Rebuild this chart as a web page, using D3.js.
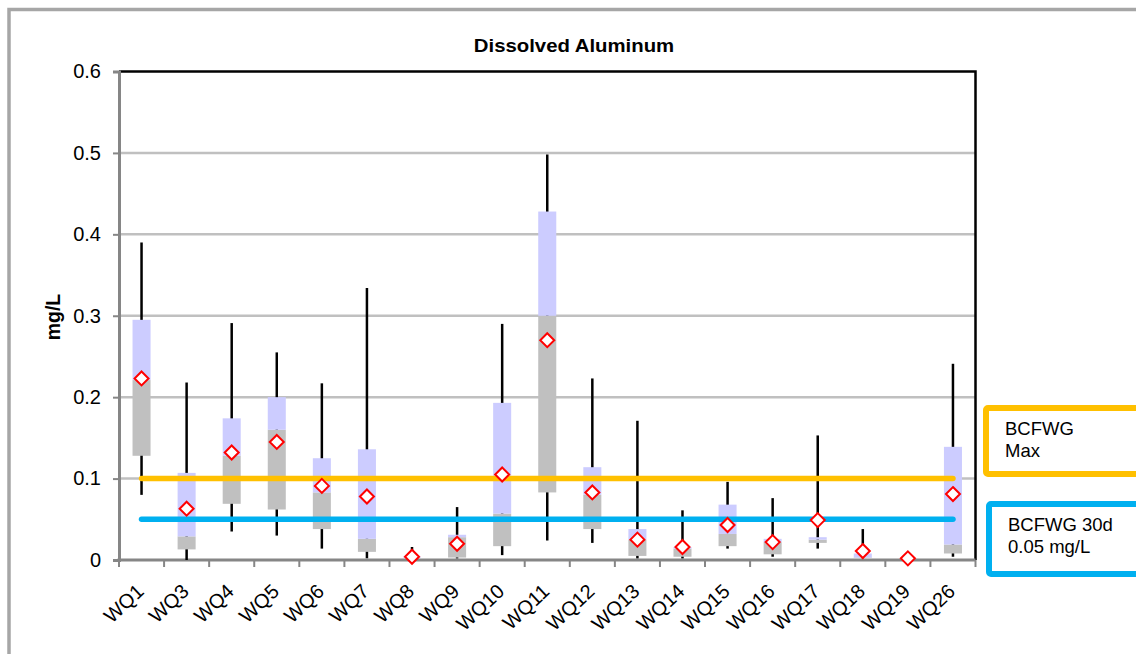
<!DOCTYPE html>
<html>
<head>
<meta charset="utf-8">
<script src="https://cdn.jsdelivr.net/npm/d3@7"></script>
<style>
  html, body { margin: 0; padding: 0; background: #fff; }
  svg { display: block; font-family: "Liberation Sans", Arial, sans-serif; }
</style>
</head>
<body>
<svg id="chart" width="1136" height="654"></svg>
<script>
// Dissolved aluminum by station: whiskers (min/max), box (Q1/median/Q3), diamond = mean
const categories = ["WQ1","WQ3","WQ4","WQ5","WQ6","WQ7","WQ8","WQ9","WQ10","WQ11",
                    "WQ12","WQ13","WQ14","WQ15","WQ16","WQ17","WQ18","WQ19","WQ26"];
const minValues    = [0.080,0.000,0.035,0.030,0.014,0.002,0.002,0.002,0.006,0.024,
                      0.021,0.002,0.002,0.014,0.004,0.014,0.002,0.002,0.004];
const q1Values     = [0.128,0.013,0.069,0.062,0.038,0.010,0.003,0.003,0.017,0.083,
                      0.038,0.005,0.004,0.017,0.007,0.021,0.002,0.002,0.008];
const medianValues = [0.221,0.029,0.128,0.160,0.083,0.026,0.003,0.028,0.057,0.300,
                      0.080,0.025,0.014,0.032,0.022,0.025,0.003,0.002,0.019];
const q3Values     = [0.295,0.107,0.174,0.200,0.125,0.136,0.004,0.031,0.193,0.428,
                      0.114,0.038,0.016,0.068,0.026,0.028,0.008,0.002,0.139];
const maxValues    = [0.390,0.218,0.291,0.255,0.217,0.334,0.016,0.065,0.290,0.498,
                      0.223,0.171,0.061,0.096,0.076,0.153,0.038,0.002,0.241];
const meanValues   = [0.223,0.063,0.132,0.145,0.091,0.078,0.004,0.020,0.105,0.270,
                      0.083,0.025,0.016,0.043,0.022,0.049,0.011,0.002,0.081];
const yTicks = [0, 0.1, 0.2, 0.3, 0.4, 0.5, 0.6];

// Guideline values
const guideMax = 0.1;
const guide30d = 0.05;
const guideMaxLabel = ["BCFWG", "Max"];
const guide30dLabel = ["BCFWG 30d", "0.05 mg/L"];

const rows = categories.map((c, i) => ({
  cat: c, min: minValues[i], q1: q1Values[i], med: medianValues[i],
  q3: q3Values[i], max: maxValues[i], mean: meanValues[i]
}));

const svg = d3.select("#chart");
const plot = { left: 119, right: 975.5, top: 71.5, bottom: 560 };

const x = d3.scaleBand().domain(categories).range([plot.left, plot.right]).padding(0);
const y = d3.scaleLinear().domain([0, 0.6]).range([plot.bottom, plot.top]);
const cx = c => x(c) + x.bandwidth() / 2;
const boxW = x.bandwidth() * 0.4;

// outer chart frame
svg.append("rect").attr("x", 9).attr("y", 9.5).attr("width", 1140).attr("height", 660)
  .attr("fill", "none").attr("stroke", "#a6a6a6").attr("stroke-width", 3.5);

// title
svg.append("text").attr("transform", "translate(574,51.5) scale(1.1,1)")
  .attr("text-anchor", "middle").attr("font-weight", "bold").attr("font-size", 18.5)
  .text("Dissolved Aluminum");

// y axis title
svg.append("text").attr("transform", "translate(60,317) rotate(-90)")
  .attr("text-anchor", "middle").attr("font-weight", "bold").attr("font-size", 19.5)
  .text("mg/L");

// gridlines
svg.append("g").selectAll("line").data(yTicks.filter(t => t > 0 && t < 0.6)).join("line")
  .attr("x1", plot.left).attr("x2", plot.right)
  .attr("y1", d => y(d)).attr("y2", d => y(d))
  .attr("stroke", "#c0c0c0").attr("stroke-width", 2.5);

// top and right plot borders
svg.append("path")
  .attr("d", `M${plot.left},${y(0.6)}H${plot.right}V${plot.bottom}`)
  .attr("fill", "none").attr("stroke", "#000").attr("stroke-width", 2.5);

// y axis
const yAxis = d3.axisLeft(y).tickValues(yTicks).tickSize(6).tickPadding(12)
  .tickFormat(d => d === 0 ? "0" : d3.format(".1f")(d));
const gy = svg.append("g").attr("transform", `translate(${plot.left},0)`).call(yAxis);
gy.select(".domain").attr("stroke", "#868686").attr("stroke-width", 3);
gy.selectAll(".tick line").attr("stroke", "#868686").attr("stroke-width", 2);
gy.selectAll(".tick text").attr("font-size", 20).attr("fill", "#000")
  .attr("font-family", "Liberation Sans, Arial, sans-serif");

// x axis: ticks at category boundaries
const boundaries = categories.map(c => x(c)).concat([plot.right]);
svg.append("line").attr("x1", plot.left - 1.5).attr("x2", plot.right)
  .attr("y1", plot.bottom).attr("y2", plot.bottom)
  .attr("stroke", "#868686").attr("stroke-width", 3);
svg.append("g").selectAll("line").data(boundaries).join("line")
  .attr("x1", d => d).attr("x2", d => d)
  .attr("y1", plot.bottom).attr("y2", plot.bottom + 7)
  .attr("stroke", "#868686").attr("stroke-width", 2);
svg.append("g").selectAll("text").data(categories).join("text")
  .attr("transform", d => `translate(${cx(d) + 3.5},${plot.bottom + 33}) rotate(-43)`)
  .attr("text-anchor", "end").attr("font-size", 20).text(d => d);

// whiskers
svg.append("g").selectAll("line").data(rows).join("line")
  .attr("x1", d => cx(d.cat)).attr("x2", d => cx(d.cat))
  .attr("y1", d => y(d.min)).attr("y2", d => y(d.max))
  .attr("stroke", "#000").attr("stroke-width", 2.5);

// lower box (Q1 to median)
svg.append("g").selectAll("rect").data(rows).join("rect")
  .attr("x", d => cx(d.cat) - boxW / 2).attr("width", boxW)
  .attr("y", d => y(d.med)).attr("height", d => y(d.q1) - y(d.med))
  .attr("fill", "#c0c0c0");

// upper box (median to Q3)
svg.append("g").selectAll("rect").data(rows).join("rect")
  .attr("x", d => cx(d.cat) - boxW / 2).attr("width", boxW)
  .attr("y", d => y(d.q3)).attr("height", d => y(d.med) - y(d.q3))
  .attr("fill", "#ccccff");

// guideline lines
const first = cx(categories[0]), last = cx(categories[categories.length - 1]);
svg.append("line").attr("x1", first).attr("x2", last)
  .attr("y1", y(guideMax)).attr("y2", y(guideMax))
  .attr("stroke", "#ffc000").attr("stroke-width", 5.5).attr("stroke-linecap", "round");
svg.append("line").attr("x1", first).attr("x2", last)
  .attr("y1", y(guide30d)).attr("y2", y(guide30d))
  .attr("stroke", "#00b0f0").attr("stroke-width", 5.5).attr("stroke-linecap", "round");

// mean diamonds
const r = 7;
svg.append("g").selectAll("path").data(rows).join("path")
  .attr("d", d => {
    const px = cx(d.cat), py = y(d.mean);
    return `M${px},${py - r}L${px + r},${py}L${px},${py + r}L${px - r},${py}Z`;
  })
  .attr("fill", "#fff").attr("stroke", "#ff0000").attr("stroke-width", 2);

// guideline label boxes
function labelBox(bx, by, h, color, lines) {
  svg.append("rect").attr("x", bx).attr("y", by).attr("width", 200).attr("height", h)
    .attr("rx", 2).attr("fill", "#fff").attr("stroke", color).attr("stroke-width", 6);
  svg.append("text").attr("x", bx + 19).attr("y", by + 27).attr("font-size", 18.5)
    .selectAll("tspan").data(lines).join("tspan")
    .attr("x", bx + 19).attr("dy", (d, i) => i === 0 ? 0 : 21.5).text(d => d);
}
labelBox(986, 408, 66, "#ffc000", guideMaxLabel);
labelBox(989, 504, 70, "#00b0f0", guide30dLabel);
</script>
</body>
</html>
